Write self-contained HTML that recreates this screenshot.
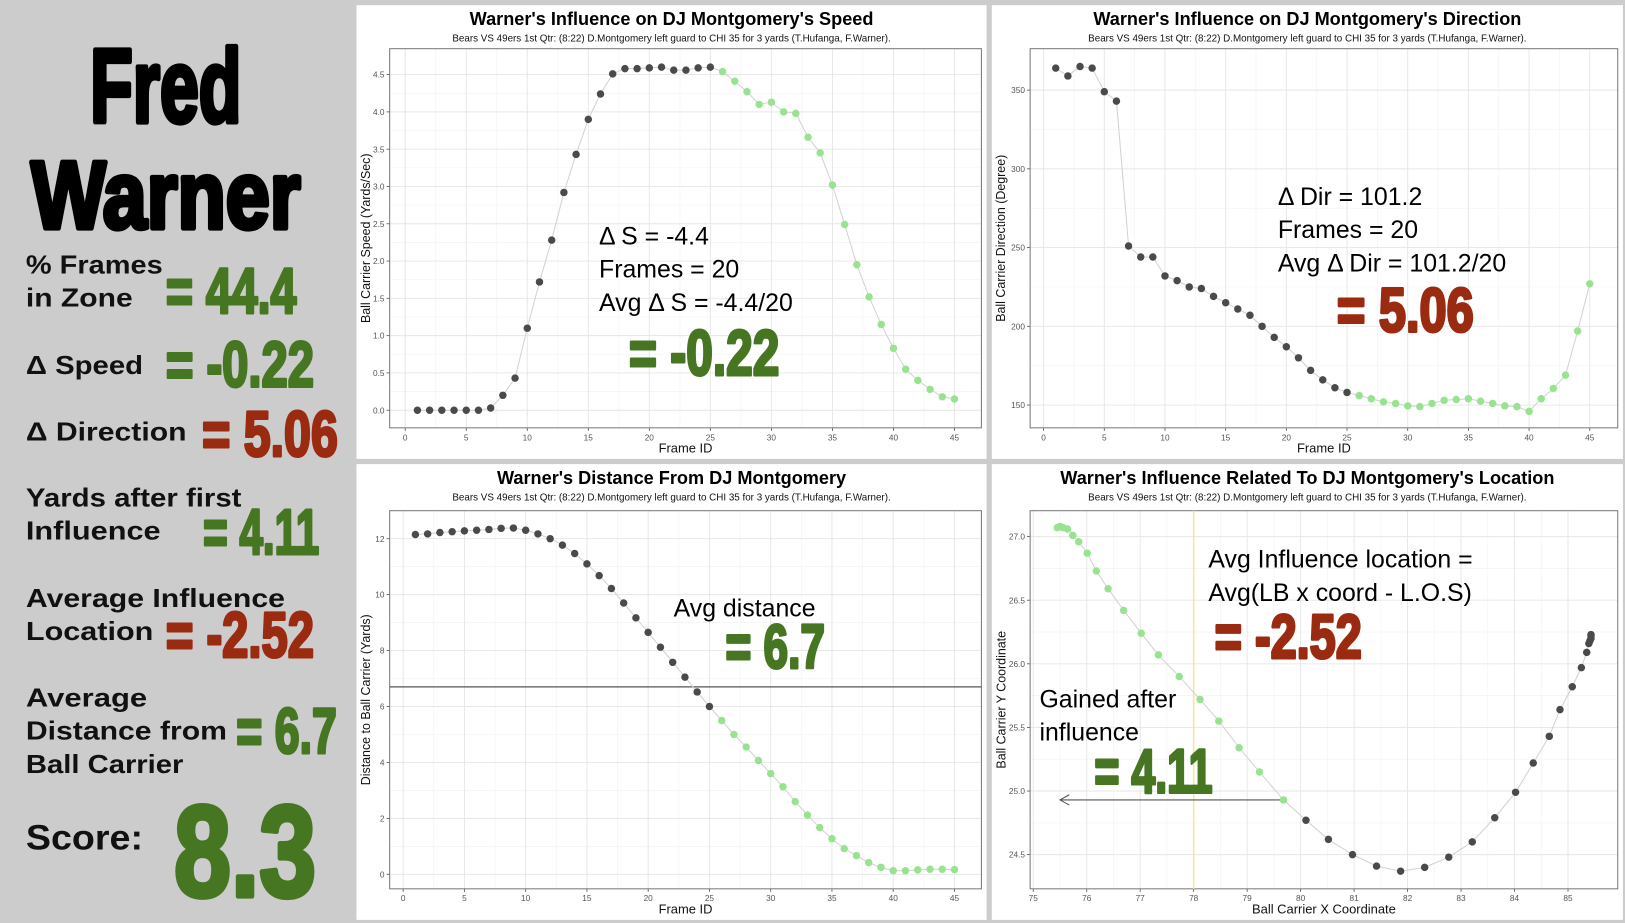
<!DOCTYPE html>
<html><head><meta charset="utf-8"><style>
html,body{margin:0;padding:0;background:#cccccc;}
svg{display:block;}
.t{font-family:"Liberation Sans",sans-serif;}
.big{font-family:"Liberation Sans Narrow","Liberation Sans",sans-serif;font-weight:bold;}
</style></head><body>
<svg id="root" width="1625" height="923" viewBox="0 0 1568 891" preserveAspectRatio="none" xmlns="http://www.w3.org/2000/svg">
<rect x="0" y="0" width="1568" height="891" fill="#cccccc"/>
<g>
<text class="big" x="87" y="118" font-size="100" textLength="146" lengthAdjust="spacingAndGlyphs" fill="#000" stroke="#000" stroke-width="5" stroke-linejoin="round">Fred</text>
<text class="big" x="30" y="220" font-size="92" textLength="260" lengthAdjust="spacingAndGlyphs" fill="#000" stroke="#000" stroke-width="5" stroke-linejoin="round">Warner</text>
<g class="t" font-size="25" fill="#111" font-weight="bold">
<text x="25" y="264" textLength="132" lengthAdjust="spacingAndGlyphs">% Frames</text>
<text x="25" y="296" textLength="103" lengthAdjust="spacingAndGlyphs">in Zone</text>
<text x="25" y="361" textLength="113" lengthAdjust="spacingAndGlyphs">Δ Speed</text>
<text x="25" y="425" textLength="155" lengthAdjust="spacingAndGlyphs">Δ Direction</text>
<text x="25" y="489" textLength="208" lengthAdjust="spacingAndGlyphs">Yards after first</text>
<text x="25" y="521" textLength="130" lengthAdjust="spacingAndGlyphs">Influence</text>
<text x="25" y="586" textLength="250" lengthAdjust="spacingAndGlyphs">Average Influence</text>
<text x="25" y="618" textLength="123" lengthAdjust="spacingAndGlyphs">Location</text>
<text x="25" y="682" textLength="117" lengthAdjust="spacingAndGlyphs">Average</text>
<text x="25" y="714" textLength="194" lengthAdjust="spacingAndGlyphs">Distance from</text>
<text x="25" y="746" textLength="152" lengthAdjust="spacingAndGlyphs">Ball Carrier</text>
<text x="25" y="820" font-size="34" textLength="113" lengthAdjust="spacingAndGlyphs">Score:</text>
</g>
<g class="big" stroke-width="3" stroke-linejoin="round">
<text x="160" y="302" font-size="62" textLength="126" lengthAdjust="spacingAndGlyphs" fill="#477623" stroke="#477623">= 44.4</text>
<text x="160" y="373" font-size="62" textLength="143" lengthAdjust="spacingAndGlyphs" fill="#477623" stroke="#477623">= -0.22</text>
<text x="195" y="440" font-size="62" textLength="131" lengthAdjust="spacingAndGlyphs" fill="#9a2a10" stroke="#9a2a10">= 5.06</text>
<text x="196" y="535" font-size="62" textLength="112" lengthAdjust="spacingAndGlyphs" fill="#477623" stroke="#477623">= 4.11</text>
<text x="160" y="634" font-size="62" textLength="143" lengthAdjust="spacingAndGlyphs" fill="#9a2a10" stroke="#9a2a10">= -2.52</text>
<text x="228" y="727" font-size="62" textLength="97" lengthAdjust="spacingAndGlyphs" fill="#477623" stroke="#477623">= 6.7</text>
<text x="168" y="865" font-size="125" textLength="137" lengthAdjust="spacingAndGlyphs" fill="#477623" stroke="#477623" stroke-width="5">8.3</text>
</g>
</g>
<g id="charts"></g>
</svg>
<script>
// ---- chart data ----
var frames = [];
for (var i = 1; i <= 45; i++) frames.push(i);
var speedValues = [0,0,0,0,0,0,0.03,0.2,0.43,1.1,1.72,2.28,2.92,3.43,3.9,4.24,4.51,4.58,4.58,4.59,4.6,4.56,4.56,4.59,4.6,4.54,4.41,4.27,4.1,4.13,4.0,3.98,3.66,3.45,3.02,2.49,1.95,1.52,1.15,0.83,0.55,0.4,0.28,0.18,0.15];
var directionValues = [364,359,365,364,349,343,251,244,244,232,229,225,224,219,215,211,207,200,193,187,180,172,166,161,158,156,154,152,151,149.5,149,151,153,153.5,154,152.5,151,149.5,149,146,154,160.5,169,197,227];
var distanceValues = [12.15,12.17,12.22,12.25,12.28,12.3,12.33,12.37,12.38,12.3,12.17,12.0,11.77,11.47,11.1,10.68,10.22,9.7,9.17,8.65,8.12,7.58,7.05,6.52,6.0,5.5,5.0,4.55,4.07,3.6,3.13,2.6,2.12,1.67,1.27,0.92,0.67,0.42,0.25,0.13,0.13,0.16,0.18,0.18,0.17];
var avgDistance = 6.7;
var locX = [85.43,85.43,85.43,85.41,85.39,85.35,85.25,85.08,84.85,84.65,84.35,84.02,83.63,83.21,82.77,82.32,81.87,81.42,80.97,80.52,80.10,79.68,79.23,78.85,78.47,78.12,77.73,77.34,77.02,76.69,76.40,76.18,76.01,75.85,75.74,75.64,75.56,75.50,75.45];
var locY = [26.23,26.22,26.20,26.18,26.16,26.09,25.97,25.82,25.64,25.43,25.22,24.99,24.79,24.60,24.48,24.40,24.37,24.41,24.50,24.62,24.77,24.93,25.15,25.34,25.55,25.72,25.90,26.07,26.24,26.42,26.59,26.73,26.87,26.96,27.01,27.06,27.07,27.08,27.07];
var locGreenStart = 21;
var losX = 78;
var frameTicks = [0,5,10,15,20,25,30,35,40,45];
var speedTicks = ["0.0","0.5","1.0","1.5","2.0","2.5","3.0","3.5","4.0","4.5"];
var dirTicks = [150,200,250,300,350];
var distTicks = [0,2,4,6,8,10,12];
var locXTicks = [75,76,77,78,79,80,81,82,83,84,85];
var locYTicks = ["24.5","25.0","25.5","26.0","26.5","27.0"];
var subtitle = "Bears VS 49ers 1st Qtr: (8:22) D.Montgomery left guard to CHI 35 for 3 yards (T.Hufanga, F.Warner).";

var NS = "http://www.w3.org/2000/svg";
var root = document.getElementById("charts");
function mk(tag, attrs, parent) {
  var e = document.createElementNS(NS, tag);
  for (var k in attrs) e.setAttribute(k, attrs[k]);
  (parent || root).appendChild(e);
  return e;
}
function lin(d0, d1, r0, r1) { return function (v) { return r0 + (v - d0) * (r1 - r0) / (d1 - d0); }; }

function chart(c) {
  var g = mk("g", {});
  
  
  var p = mk("rect", {x: c.px, y: c.py, width: c.pw, height: c.ph, fill: "#fff"}, g);
  
  
  var t = mk("text", {x: c.px + c.pw / 2, y: c.py + 19, "text-anchor": "middle", "font-size": 17.5, "font-weight": "bold", "class": "t", fill: "#000"}, g);
  t.textContent = c.title;
  
  
  var s = mk("text", {x: c.px + c.pw / 2, y: c.py + 35, "text-anchor": "middle", "font-size": 9.5, "class": "t", fill: "#111"}, g);
  s.textContent = subtitle;
  
  
  var X = lin(c.xd[0], c.xd[1], c.xr[0], c.xr[1]);
  var Y = lin(c.yd[0], c.yd[1], c.yr[0], c.yr[1]);
  var b = c.box;
  var i, v;
  for (i = 0; i < c.xt.length - 1; i++) {
    v = X((+c.xt[i] + +c.xt[i + 1]) / 2);
    mk("line", {x1: v, x2: v, y1: b[1], y2: b[3], stroke: "#f4f4f4", "stroke-width": 0.7}, g);
  }
  for (i = 0; i < c.yt.length - 1; i++) {
    v = Y((+c.yt[i] + +c.yt[i + 1]) / 2);
    mk("line", {x1: b[0], x2: b[2], y1: v, y2: v, stroke: "#f4f4f4", "stroke-width": 0.7}, g);
  }
  for (i = 0; i < c.xt.length; i++) {
    v = X(+c.xt[i]);
    mk("line", {x1: v, x2: v, y1: b[1], y2: b[3], stroke: "#e6e6e6", "stroke-width": 0.9}, g);
    mk("line", {x1: v, x2: v, y1: b[3], y2: b[3] + 3, stroke: "#555", "stroke-width": 0.8}, g);
    var tl = mk("text", {x: v, y: b[3] + 12, "text-anchor": "middle", "font-size": 8, "class": "t", fill: "#555"}, g);
    tl.textContent = c.xt[i];
    
    
  }
  for (i = 0; i < c.yt.length; i++) {
    v = Y(+c.yt[i]);
    mk("line", {x1: b[0], x2: b[2], y1: v, y2: v, stroke: "#e6e6e6", "stroke-width": 0.9}, g);
    mk("line", {x1: b[0] - 3, x2: b[0], y1: v, y2: v, stroke: "#555", "stroke-width": 0.8}, g);
    var yl = mk("text", {x: b[0] - 5, y: v + 3, "text-anchor": "end", "font-size": 8, "class": "t", fill: "#555"}, g);
    yl.textContent = c.yt[i];
    
    
  }
  var bx = mk("rect", {x: b[0], y: b[1], width: b[2] - b[0], height: b[3] - b[1], fill: "none", stroke: "#7a7a7a", "stroke-width": 1}, g);
  
  
  var xt = mk("text", {x: (b[0] + b[2]) / 2, y: b[3] + 24, "text-anchor": "middle", "font-size": 12.5, "class": "t", fill: "#111"}, g);
  xt.textContent = c.xlab;
  
  
  var yx = c.ytx, yy = (b[1] + b[3]) / 2;
  var ytt = mk("text", {x: yx, y: yy, "text-anchor": "middle", "font-size": 12, "class": "t", fill: "#111", transform: "rotate(-90 " + yx + " " + yy + ")"}, g);
  ytt.textContent = c.ylab;
  
  
  if (c.extra) c.extra(g, X, Y);
  var d = "";
  for (i = 0; i < c.xs.length; i++) d += (i ? "L" : "M") + X(c.xs[i]).toFixed(1) + " " + Y(c.ys[i]).toFixed(1);
  var ln = mk("path", {d: d, fill: "none", stroke: "#d2d2d2", "stroke-width": 1}, g);
  
  
  for (i = 0; i < c.xs.length; i++) {
    var pt = mk("circle", {cx: X(c.xs[i]), cy: Y(c.ys[i]), r: 3.6, fill: i >= c.gs ? "#97e38f" : "#4a4a4a"}, g);
    
    
  }
}

chart({name: "speed-chart", px: 344, py: 5, pw: 608, ph: 438, title: "Warner's Influence on DJ Montgomery's Speed",
  box: [376, 47, 947, 413], xd: [0, 45], xr: [391, 921], yd: [0, 4.5], yr: [396, 72],
  xt: frameTicks, yt: speedTicks, xlab: "Frame ID", ylab: "Ball Carrier Speed (Yards/Sec)", ytx: 357,
  xs: frames, ys: speedValues, gs: 25});
chart({name: "direction-chart", px: 957, py: 5, pw: 609, ph: 438, title: "Warner's Influence on DJ Montgomery's Direction",
  box: [994, 47, 1561, 413], xd: [0, 45], xr: [1007, 1534], yd: [150, 350], yr: [391, 87],
  xt: frameTicks, yt: dirTicks, xlab: "Frame ID", ylab: "Ball Carrier Direction (Degree)", ytx: 970,
  xs: frames, ys: directionValues, gs: 25});
chart({name: "distance-chart", px: 344, py: 448, pw: 608, ph: 440, title: "Warner's Distance From DJ Montgomery",
  box: [376, 493, 947, 858], xd: [0, 45], xr: [389, 921], yd: [0, 12], yr: [844, 520],
  xt: frameTicks, yt: distTicks, xlab: "Frame ID", ylab: "Distance to Ball Carrier (Yards)", ytx: 357,
  xs: frames, ys: distanceValues, gs: 25,
  extra: function (g, X, Y) {
    var l = mk("line", {x1: 376, x2: 947, y1: Y(avgDistance), y2: Y(avgDistance), stroke: "#555", "stroke-width": 1.2}, g);
    
    
  }});
chart({name: "location-chart", px: 957, py: 448, pw: 609, ph: 440, title: "Warner's Influence Related To DJ Montgomery's Location",
  box: [994, 493, 1561, 858], xd: [75, 85], xr: [997, 1513], yd: [24.5, 27.0], yr: [825, 518],
  xt: locXTicks, yt: locYTicks, xlab: "Ball Carrier X Coordinate", ylab: "Ball Carrier Y Coordinate", ytx: 970,
  xs: locX, ys: locY, gs: locGreenStart,
  extra: function (g, X, Y) {
    var l = mk("line", {x1: X(losX), x2: X(losX), y1: 493, y2: 858, stroke: "#f5e79a", "stroke-width": 1.5}, g);
    
    
    var ay = Y(locY[locGreenStart]), ax1 = X(locX[locGreenStart]), ax0 = X(75.5);
    var a = mk("path", {d: "M" + ax1 + " " + ay + "L" + ax0 + " " + ay + "M" + (ax0 + 9) + " " + (ay - 5) + "L" + ax0 + " " + ay + "L" + (ax0 + 9) + " " + (ay + 5), fill: "none", stroke: "#555", "stroke-width": 1}, g);
    
    
  }});

function ann(x, y, size, txt, name, opts) {
  var e = mk("text", {x: x, y: y, "font-size": size, "class": opts && opts.big ? "big" : "t", fill: opts && opts.fill || "#000"});
  if (opts && opts.len) { e.setAttribute("textLength", opts.len); e.setAttribute("lengthAdjust", "spacingAndGlyphs"); }
  if (opts && opts.big) { e.setAttribute("stroke", opts.fill); e.setAttribute("stroke-width", "3"); e.setAttribute("stroke-linejoin", "round"); }
  e.textContent = txt;
  
  
}
var G = "#477623", R = "#9a2a10";
ann(578, 236, 24, "Δ S = -4.4", "speed-annotation-delta");
ann(578, 268, 24, "Frames = 20", "speed-annotation-frames");
ann(578, 300, 24, "Avg Δ S = -4.4/20", "speed-annotation-avg");
ann(607, 362, 62, "= -0.22", "speed-annotation-result", {big: 1, fill: G, len: 145});
ann(1233, 198, 24, "Δ Dir = 101.2", "direction-annotation-delta");
ann(1233, 230, 24, "Frames = 20", "direction-annotation-frames");
ann(1233, 262, 24, "Avg Δ Dir = 101.2/20", "direction-annotation-avg");
ann(1290, 320, 60, "= 5.06", "direction-annotation-result", {big: 1, fill: R, len: 132});
ann(650, 595, 24, "Avg distance", "distance-annotation-label");
ann(700, 645, 60, "= 6.7", "distance-annotation-result", {big: 1, fill: G, len: 96});
ann(1166, 548, 24, "Avg Influence location =", "location-annotation-label");
ann(1166, 580, 24, "Avg(LB x coord - L.O.S)", "location-annotation-formula");
ann(1172, 635, 60, "= -2.52", "location-annotation-result", {big: 1, fill: R, len: 142});
ann(1003, 683, 24, "Gained after", "gain-annotation-label");
ann(1003, 715, 24, "influence", "gain-annotation-label-2");
ann(1056, 765, 60, "= 4.11", "gain-annotation-result", {big: 1, fill: G, len: 114});
</script>
</body></html>
